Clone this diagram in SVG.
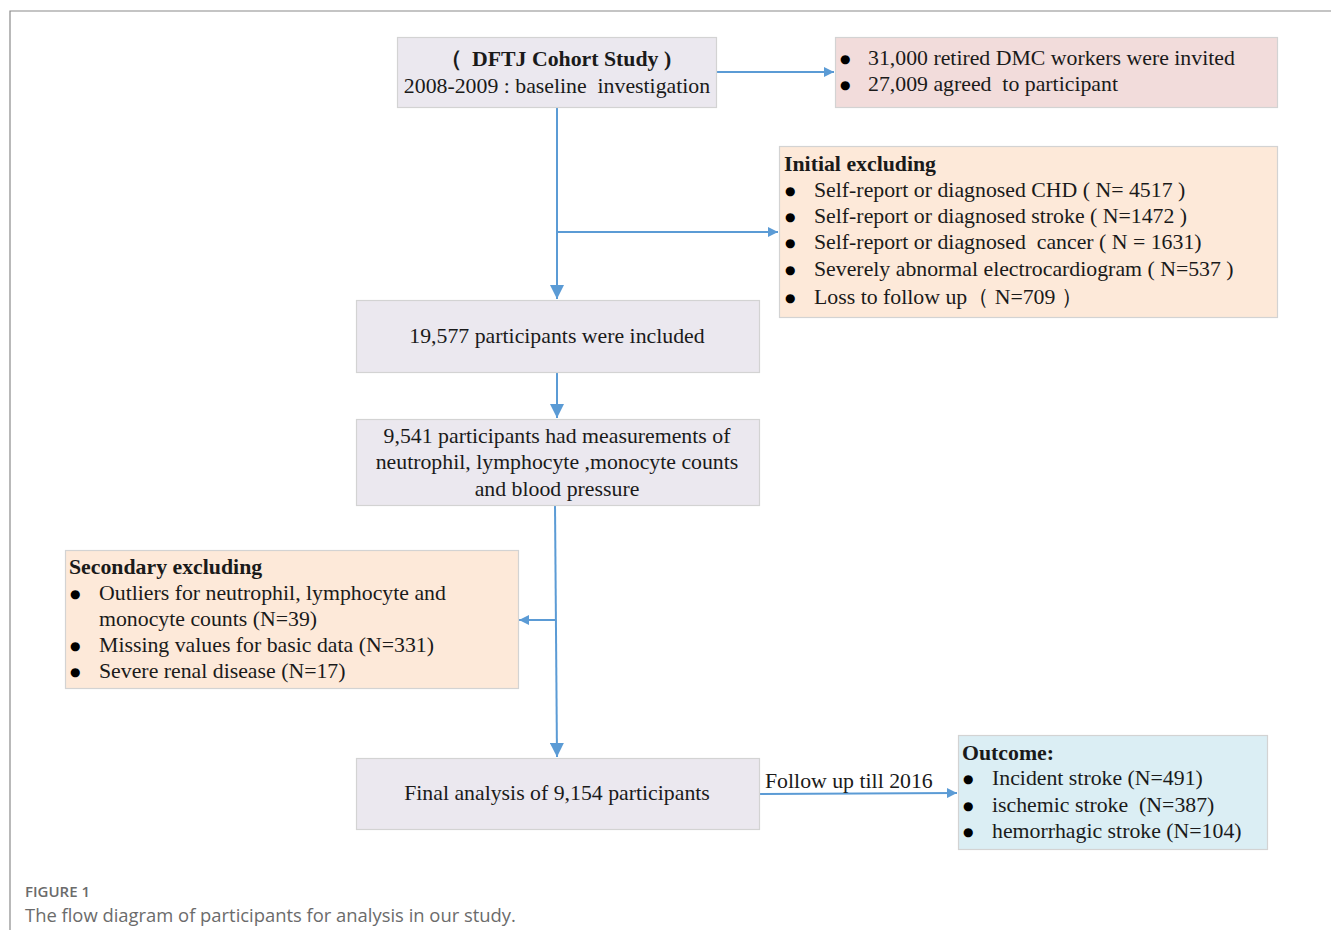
<svg xmlns="http://www.w3.org/2000/svg" width="1331" height="930" viewBox="0 0 1331 930">
<defs>
<marker id="ah" viewBox="0 0 10 10" refX="10" refY="5" markerWidth="10" markerHeight="10" markerUnits="userSpaceOnUse" orient="auto">
<path d="M0,0 L10,5 L0,10 z" fill="#5b9bd5"/>
</marker>
<marker id="ahv" viewBox="0 0 14 14" refX="14" refY="7" markerWidth="14" markerHeight="14" markerUnits="userSpaceOnUse" orient="auto">
<path d="M0,0 L14,7 L0,14 z" fill="#5b9bd5"/>
</marker>
</defs>
<style>
.t{font-family:"Liberation Serif","Times New Roman",serif;font-size:21.8px;fill:#1a1a1a}
.b{font-weight:bold}
.c{text-anchor:middle}
.bu{font-family:"DejaVu Sans",sans-serif;font-size:12px;fill:#000}
.grey{fill:#ebe8ef;stroke:#d3d3d3;stroke-width:1.2}
.pink{fill:#f2dcdb;stroke:#d3d3d3;stroke-width:1.2}
.peach{fill:#fde9d9;stroke:#d3d3d3;stroke-width:1.2}
.blue{fill:#dbeef4;stroke:#d3d3d3;stroke-width:1.2}
.ln{stroke:#5b9bd5;stroke-width:2;fill:none}
.cap{font-family:"Open Sans","Noto Sans",sans-serif;fill:#6b6b6b}
</style>
<rect width="1331" height="930" fill="#fff"/>
<path d="M10,930 L10,11 L1331,11" fill="none" stroke="#8a8a8a" stroke-width="1.2"/>

<g id="connectors">
<path class="ln" d="M557,107 L557,299" marker-end="url(#ahv)"/>
<path class="ln" d="M557,232 L778,232" marker-end="url(#ah)"/>
<path class="ln" d="M716,72 L834,72" marker-end="url(#ah)"/>
<path class="ln" d="M557,372 L557,418" marker-end="url(#ahv)"/>
<path class="ln" d="M555,505 L557,757" marker-end="url(#ahv)"/>
<path class="ln" d="M556,620 L519,620" marker-end="url(#ah)"/>
<path class="ln" d="M759,794 L957,793" marker-end="url(#ah)"/>
<text class="t" x="765" y="788">Follow up till 2016</text>
</g>

<g id="baseline">
<rect class="grey" x="397.5" y="37.5" width="319" height="70"/>
<text class="t b" x="440" y="66">（<tspan x="472">DFTJ Cohort Study )</tspan></text>
<text class="t c" x="557" y="93" xml:space="preserve">2008-2009 : baseline  investigation</text>
</g>

<g id="invited">
<rect class="pink" x="835.5" y="37.5" width="442" height="70"/>
<text class="bu" x="840" y="63">●</text>
<text class="t" x="868" y="65">31,000 retired DMC workers were invited</text>
<text class="bu" x="840" y="89">●</text>
<text class="t" x="868" y="91" xml:space="preserve">27,009 agreed  to participant</text>
</g>

<g id="initial-excluding">
<rect class="peach" x="779.5" y="146.5" width="498" height="171"/>
<text class="t b" x="784" y="171">Initial excluding</text>
<text class="bu" x="785" y="195">●</text>
<text class="t" x="814" y="197">Self-report or diagnosed CHD ( N= 4517 )</text>
<text class="bu" x="785" y="221">●</text>
<text class="t" x="814" y="223">Self-report or diagnosed stroke ( N=1472 )</text>
<text class="bu" x="785" y="247">●</text>
<text class="t" x="814" y="249" xml:space="preserve">Self-report or diagnosed  cancer ( N = 1631)</text>
<text class="bu" x="785" y="274">●</text>
<text class="t" x="814" y="276">Severely abnormal electrocardiogram ( N=537 )</text>
<text class="bu" x="785" y="302">●</text>
<text class="t" x="814" y="304">Loss to follow up（ N=709 ）</text>
</g>

<g id="included">
<rect class="grey" x="356.5" y="300.5" width="403" height="72"/>
<text class="t c" x="557" y="343">19,577 participants were included</text>
</g>

<g id="measurements">
<rect class="grey" x="356.5" y="419.5" width="403" height="86"/>
<text class="t c" x="557" y="443">9,541 participants had measurements of</text>
<text class="t c" x="557" y="469">neutrophil, lymphocyte ,monocyte counts</text>
<text class="t c" x="557" y="496">and blood pressure</text>
</g>

<g id="secondary-excluding">
<rect class="peach" x="65.5" y="550.5" width="453" height="138"/>
<text class="t b" x="69" y="574">Secondary excluding</text>
<text class="bu" x="70" y="598">●</text>
<text class="t" x="99" y="600">Outliers for neutrophil, lymphocyte and</text>
<text class="t" x="99" y="626">monocyte counts (N=39)</text>
<text class="bu" x="70" y="650">●</text>
<text class="t" x="99" y="652">Missing values for basic data (N=331)</text>
<text class="bu" x="70" y="676">●</text>
<text class="t" x="99" y="678">Severe renal disease (N=17)</text>
</g>

<g id="final">
<rect class="grey" x="356.5" y="758.5" width="403" height="71"/>
<text class="t c" x="557" y="800">Final analysis of 9,154 participants</text>
</g>

<g id="outcome">
<rect class="blue" x="958.5" y="735.5" width="309" height="114"/>
<text class="t b" x="962" y="760">Outcome:</text>
<text class="bu" x="963" y="783">●</text>
<text class="t" x="992" y="785">Incident stroke (N=491)</text>
<text class="bu" x="963" y="810">●</text>
<text class="t" x="992" y="812" xml:space="preserve">ischemic stroke  (N=387)</text>
<text class="bu" x="963" y="836">●</text>
<text class="t" x="992" y="838">hemorrhagic stroke (N=104)</text>
</g>

<text class="cap" x="25" y="897" font-size="15" font-weight="600">FIGURE 1</text>
<text class="cap" x="25" y="922" font-size="18.4">The flow diagram of participants for analysis in our study.</text>
</svg>
